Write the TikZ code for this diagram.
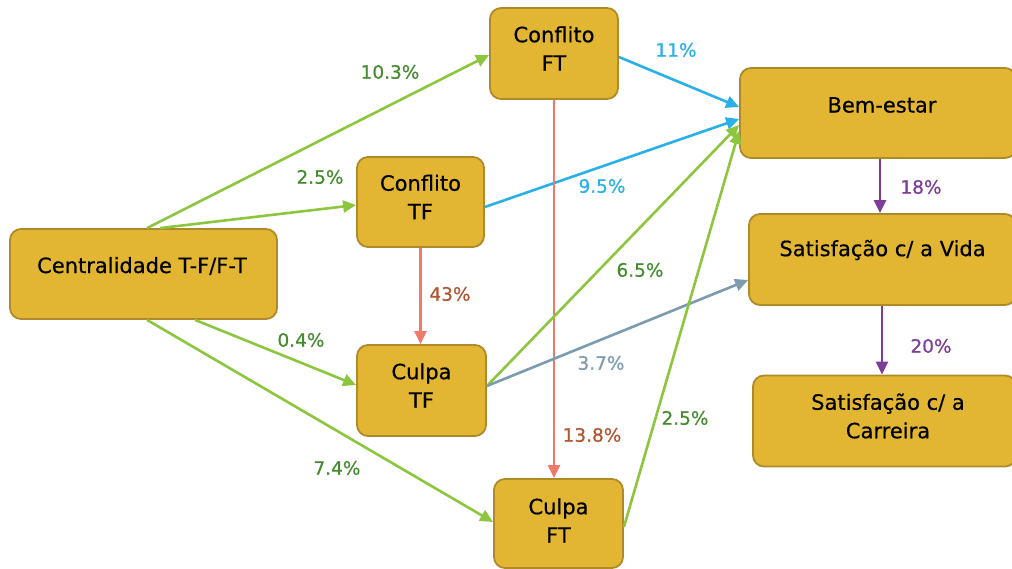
\documentclass[tikz,border=0pt]{standalone}
\usepackage{fontspec}
\setmainfont{DejaVu Sans}
\newfontfamily\heavyfont[FakeBold=0.5]{DejaVu Sans}
\usetikzlibrary{arrows.meta}
\definecolor{boxfill}{HTML}{E2B633}
\definecolor{boxline}{HTML}{AE8A2B}
\definecolor{lgreen}{HTML}{8CC63F}
\definecolor{tgreen}{HTML}{458B30}
\definecolor{lblue}{HTML}{29B0E8}
\definecolor{lsalmon}{HTML}{EC7B6E}
\definecolor{tbrown}{HTML}{B25530}
\definecolor{lgrayblue}{HTML}{7A9BB0}
\definecolor{lpurple}{HTML}{7D3C98}
\tikzset{
  box/.style={draw=boxline, fill=boxfill, line width=1.8pt, rounded corners=11pt, inner sep=0pt},
  boxtext/.style={align=center, font=\heavyfont\fontsize{21}{28.5}\selectfont, text=black, inner sep=0pt},
  lab/.style={font=\heavyfont\fontsize{18.5}{20}\selectfont, inner sep=0pt},
  conn/.style={line width=2.6pt, -{Triangle[length=13pt,width=12pt]}},
}
\begin{document}
\begin{tikzpicture}[x=1pt,y=-1pt]
\useasboundingbox (0,0) rectangle (1012,569);
\clip (0,0) rectangle (1012,569);
% boxes
\node[box, minimum width=267pt, minimum height=90pt] (cent) at (143.5,274) {};
\node[box, minimum width=128pt, minimum height=91pt] (cft) at (554,53.5) {};
\node[box, minimum width=127pt, minimum height=90pt] (ctf) at (420.5,202) {};
\node[box, minimum width=129pt, minimum height=91pt] (gtf) at (421.5,390.5) {};
\node[box, minimum width=129pt, minimum height=89pt] (gft) at (558.5,523.5) {};
\node[box, minimum width=276pt, minimum height=90pt] (bem) at (878,113) {};
\node[box, minimum width=267pt, minimum height=91pt] (vida) at (882.5,259.5) {};
\node[box, minimum width=263pt, minimum height=91pt] (car) at (884.5,421) {};
% texts
\node[boxtext] (centT) at (142,266) {Centralidade T-F/F-T};
\node[boxtext] (cftT) at (554,48.5) {Conflito\\FT};
\node[boxtext] (ctfT) at (420.5,197) {Conflito\\TF};
\node[boxtext] (gtfT) at (421.5,385.5) {Culpa\\TF};
\node[boxtext] (gftT) at (558.5,520.5) {Culpa\\FT};
\node[boxtext] (bemT) at (882,105) {Bem-estar};
\node[boxtext] (vidaT) at (882.5,250) {Satisfação c/ a Vida};
\node[boxtext] (carT) at (888,416) {Satisfação c/ a\\Carreira};
% connectors
\draw[conn, lgreen] (cent.north -| 147,0) -- (cft.west |- 0,55);
\draw[conn, lgreen] (cent.north -| 160,0) -- (ctf.west |- 0,205);
\draw[conn, lgreen] (cent.south -| 195,0) -- (gtf.west |- 0,385);
\draw[conn, lgreen] (cent.south -| 147,0) -- (gft.west |- 0,522);
\draw[conn, lblue] (cft.east |- 0,57) -- (bem.west |- 0,107);
\draw[conn, lblue] (ctf.east |- 0,207) -- (bem.west |- 0,119);
\draw[conn, lsalmon] (ctf.south) -- (ctf.south |- gtf.north);
\draw[conn, lsalmon] (cft.south) -- (cft.south |- gft.north);
\draw[conn, lgreen] (gtf.east |- 0,386) -- (bem.west |- 0,125);
\draw[conn, lgrayblue] (gtf.east |- 0,386) -- (vida.west |- 0,280);
\draw[conn, lgreen] (gft.east |- 0,527) -- (bem.west |- 0,131);
\draw[conn, lpurple] (bem.south -| 880,0) -- (vida.north -| 880,0);
\draw[conn, lpurple] (vida.south -| 882,0) -- (car.north -| 882,0);
% labels
\node[lab, text=tgreen] (l1) at (390,72) {10.3\%};
\node[lab, text=tgreen] (l2) at (320,177) {2.5\%};
\node[lab, text=tgreen] (l3) at (301,340) {0.4\%};
\node[lab, text=tgreen] (l4) at (337,468) {7.4\%};
\node[lab, text=lblue] (l5) at (676,50) {11\%};
\node[lab, text=lblue] (l6) at (602,186) {9.5\%};
\node[lab, text=tbrown] (l7) at (450,294) {43\%};
\node[lab, text=tbrown] (l8) at (592,435) {13.8\%};
\node[lab, text=tgreen] (l9) at (640,270) {6.5\%};
\node[lab, text=lgrayblue] (l10) at (601,363) {3.7\%};
\node[lab, text=tgreen] (l11) at (685,418) {2.5\%};
\node[lab, text=lpurple] (l12) at (921,187) {18\%};
\node[lab, text=lpurple] (l13) at (931,346) {20\%};
\end{tikzpicture}
\end{document}
